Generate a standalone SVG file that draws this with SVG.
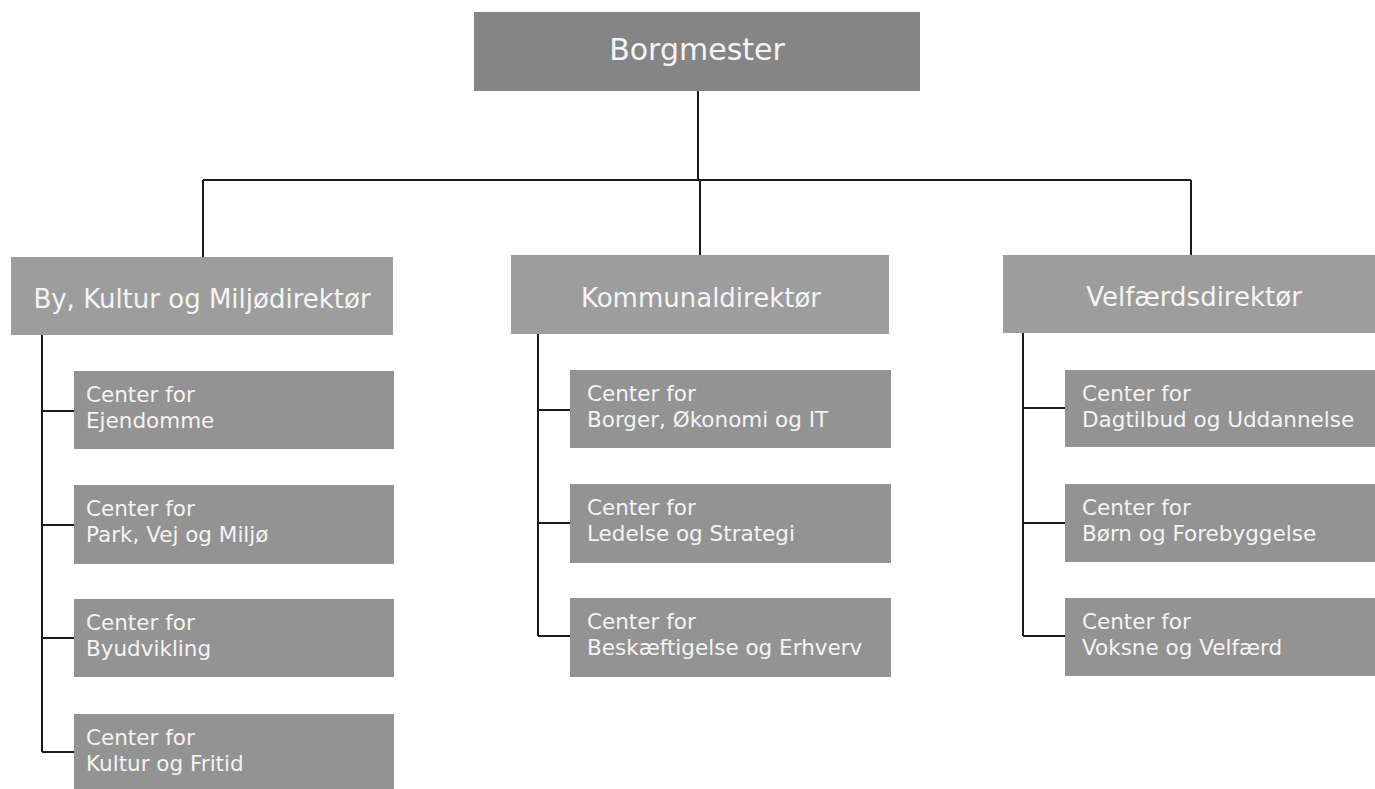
<svg xmlns="http://www.w3.org/2000/svg" width="1375" height="789" viewBox="0 0 1375 789">
<style>
.top{fill:#858585}
.dir{fill:#9d9d9d}
.sub{fill:#939393}
.t{font-family:"DejaVu Sans",sans-serif;fill:#f4f4f4}
.tc{text-anchor:middle}
.s{font-size:21.5px}
.d{font-size:26px}
.conn{stroke:#1a1a1a;stroke-width:2;fill:none}
</style>
<rect width="1375" height="789" fill="#ffffff"/>
<g id="connectors" class="conn">
<path d="M698 91V180M203 180H1191M203 180V257M700 180V255M1191 180V255"/>
<path d="M42 335V752M42 411H74M42 525H74M42 638H74M42 752H74"/>
<path d="M538 334V636M538 410H570M538 523H570M538 636H570"/>
<path d="M1023 333V636M1023 408H1065M1023 523H1065M1023 636H1065"/>
</g>
<g id="borgmester"><rect class="top" x="474" y="12" width="446" height="79"/><text class="t tc" x="697" y="60" font-size="30">Borgmester</text></g>
<g id="by-kultur-miljo"><rect class="dir" x="11" y="257" width="382" height="78"/><text class="t tc d" x="202" y="308">By, Kultur og Miljødirektør</text></g>
<g id="kommunaldirektor"><rect class="dir" x="511" y="255" width="378" height="79"/><text class="t tc d" x="701" y="307">Kommunaldirektør</text></g>
<g id="velfaerdsdirektor"><rect class="dir" x="1003" y="255" width="380" height="78"/><text class="t tc d" x="1194" y="306">Velfærdsdirektør</text></g>

<g id="ejendomme"><rect class="sub" x="74" y="371" width="320" height="78"/><text class="t s" x="86" y="402">Center for</text><text class="t s" x="86" y="428">Ejendomme</text></g>
<g id="park-vej-miljo"><rect class="sub" x="74" y="485" width="320" height="79"/><text class="t s" x="86" y="516">Center for</text><text class="t s" x="86" y="542">Park, Vej og Miljø</text></g>
<g id="byudvikling"><rect class="sub" x="74" y="599" width="320" height="78"/><text class="t s" x="86" y="630">Center for</text><text class="t s" x="86" y="656">Byudvikling</text></g>
<g id="kultur-fritid"><rect class="sub" x="74" y="714" width="320" height="80"/><text class="t s" x="86" y="745">Center for</text><text class="t s" x="86" y="771">Kultur og Fritid</text></g>

<g id="borger-okonomi-it"><rect class="sub" x="570" y="370" width="321" height="78"/><text class="t s" x="587" y="401">Center for</text><text class="t s" x="587" y="427">Borger, Økonomi og IT</text></g>
<g id="ledelse-strategi"><rect class="sub" x="570" y="484" width="321" height="79"/><text class="t s" x="587" y="515">Center for</text><text class="t s" x="587" y="541">Ledelse og Strategi</text></g>
<g id="beskaeftigelse-erhverv"><rect class="sub" x="570" y="598" width="321" height="79"/><text class="t s" x="587" y="629">Center for</text><text class="t s" x="587" y="655">Beskæftigelse og Erhverv</text></g>

<g id="dagtilbud-uddannelse"><rect class="sub" x="1065" y="370" width="315" height="77"/><text class="t s" x="1082" y="401">Center for</text><text class="t s" x="1082" y="427">Dagtilbud og Uddannelse</text></g>
<g id="born-forebyggelse"><rect class="sub" x="1065" y="484" width="315" height="78"/><text class="t s" x="1082" y="515">Center for</text><text class="t s" x="1082" y="541">Børn og Forebyggelse</text></g>
<g id="voksne-velfaerd"><rect class="sub" x="1065" y="598" width="315" height="78"/><text class="t s" x="1082" y="629">Center for</text><text class="t s" x="1082" y="655">Voksne og Velfærd</text></g>
</svg>
